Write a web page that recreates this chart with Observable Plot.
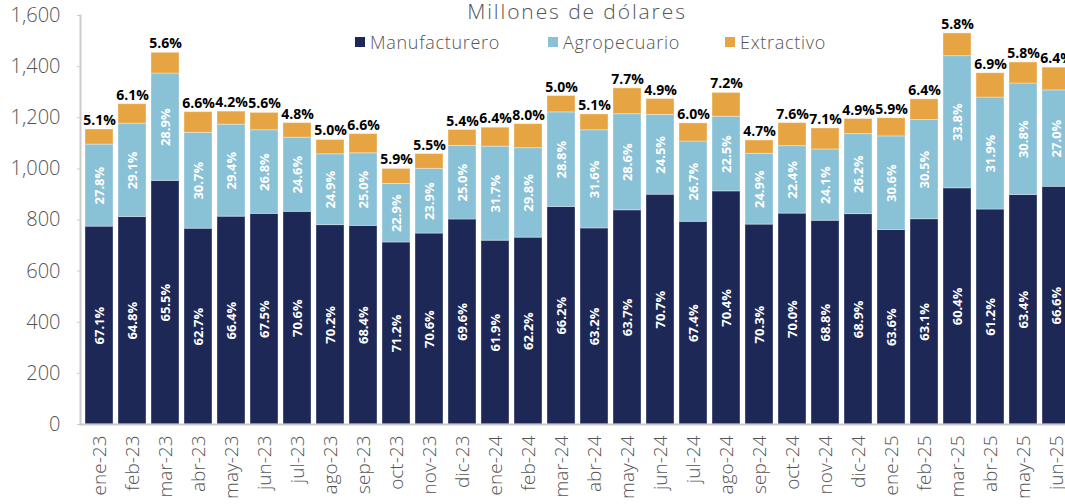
<!DOCTYPE html>
<html>
<head>
<meta charset="utf-8">
<script src="https://cdn.jsdelivr.net/npm/d3@7"></script>
<script src="https://cdn.jsdelivr.net/npm/@observablehq/plot@0.6"></script>
<style>
  html, body { margin: 0; padding: 0; background: #fff; overflow: hidden; }
  #wrap { position: relative; width: 1065px; height: 504px; overflow: hidden; }
  #chart svg { max-width: none !important; }
  #title { position: absolute; left: 417px; width: 320px; top: 1px; text-align: center; font: 300 21px 'Open Sans', sans-serif; color: #555; line-height: 21px; letter-spacing: 1.9px; white-space: nowrap; }
  .leg { position: absolute; top: 31px; font: 300 18px 'Open Sans', sans-serif; color: #555; line-height: 22px; white-space: nowrap; letter-spacing: 0.7px; }
  .sw { position: absolute; top: 37px; width: 10px; height: 10px; }
</style>
</head>
<body>
<div id="wrap">
  <div id="chart"></div>
  <div id="title">Millones de dólares</div>
</div>
<script>
const months = ["ene-23","feb-23","mar-23","abr-23","may-23","jun-23","jul-23","ago-23","sep-23","oct-23","nov-23","dic-23",
  "ene-24","feb-24","mar-24","abr-24","may-24","jun-24","jul-24","ago-24","sep-24","oct-24","nov-24","dic-24",
  "ene-25","feb-25","mar-25","abr-25","may-25","jun-25"];
const series = ["Manufacturero", "Agropecuario", "Extractivo"];
const colors = ["#1d2856", "#89c1d6", "#e7a442"];

const manufacturero = [774,812,953,766,813,824,832,780,777,712,747,802,719,731,851,767,838,899,793,912,782,825,797,823,761,803,924,841,898,930];
const agropecuario  = [321,365,420,375,360,327,290,277,284,229,253,288,368,350,370,384,376,312,314,292,277,264,279,313,366,388,517,438,436,377];
const extractivo    = [59,76,81,81,51,68,57,56,75,59,58,62,74,94,64,62,101,62,71,93,52,90,82,59,71,81,89,95,82,89];

const pctManufacturero = ["67.1%","64.8%","65.5%","62.7%","66.4%","67.5%","70.6%","70.2%","68.4%","71.2%","70.6%","69.6%","61.9%","62.2%","66.2%","63.2%","63.7%","70.7%","67.4%","70.4%","70.3%","70.0%","68.8%","68.9%","63.6%","63.1%","60.4%","61.2%","63.4%","66.6%"];
const pctAgropecuario  = ["27.8%","29.1%","28.9%","30.7%","29.4%","26.8%","24.6%","24.9%","25.0%","22.9%","23.9%","25.0%","31.7%","29.8%","28.8%","31.6%","28.6%","24.5%","26.7%","22.5%","24.9%","22.4%","24.1%","26.2%","30.6%","30.5%","33.8%","31.9%","30.8%","27.0%"];
const pctExtractivo    = ["5.1%","6.1%","5.6%","6.6%","4.2%","5.6%","4.8%","5.0%","6.6%","5.9%","5.5%","5.4%","6.4%","8.0%","5.0%","5.1%","7.7%","4.9%","6.0%","7.2%","4.7%","7.6%","7.1%","4.9%","5.9%","6.4%","5.8%","6.9%","5.8%","6.4%"];

const yTicks = [0, 200, 400, 600, 800, 1000, 1200, 1400, 1600];

const rows = [];
months.forEach((m, i) => {
  rows.push({mes: m, serie: series[0], k: 0, value: manufacturero[i], label: pctManufacturero[i]});
  rows.push({mes: m, serie: series[1], k: 1, value: agropecuario[i], label: pctAgropecuario[i]});
  rows.push({mes: m, serie: series[2], k: 2, value: extractivo[i], label: null});
});
const totals = months.map((m, i) => ({mes: m, total: manufacturero[i] + agropecuario[i] + extractivo[i], label: pctExtractivo[i]}));

const plot = Plot.plot({
  width: 1080,
  height: 504,
  marginTop: 15,
  marginBottom: 80,
  marginLeft: 80,
  marginRight: 5,
  style: {fontFamily: "'Open Sans', sans-serif", overflow: "visible"},
  x: {domain: months, paddingInner: 0.14, paddingOuter: 0.0, label: null},
  y: {domain: [0, 1600], label: null},
  color: {domain: series, range: colors},
  marks: [
    Plot.barY(rows, {x: "mes", y: "value", z: "serie", fill: "serie", order: "k", stroke: "#ffffff", strokeOpacity: 0.35, strokeWidth: 1}),
    Plot.text(rows, Plot.stackY({x: "mes", y: "value", z: "serie", order: "k", text: "label", rotate: -90, fill: "white", fontWeight: "bold", fontSize: 13})),
    Plot.text(totals, {x: "mes", y: "total", text: "label", dy: -9, fill: "black", fontWeight: "bold", fontSize: 14}),
    Plot.ruleY([0], {stroke: "#cccccc", strokeWidth: 2}),
    Plot.axisY({ticks: yTicks, tickFormat: d3.format(","), tickSize: 3, tickPadding: 17, fontSize: 20, fontWeight: 300, fill: "#555", stroke: "#ccc", label: null}),
    Plot.axisX({tickRotate: -90, tickSize: 0, tickPadding: 11, fontSize: 19, fontWeight: 300, fill: "#555", label: null}),
    Plot.frame({anchor: "left", stroke: "#cccccc", strokeWidth: 2})
  ]
});
document.getElementById("chart").appendChild(plot);

const wrap = document.getElementById("wrap");
const legendX = [355, 548, 725];
series.forEach((s, i) => {
  const sw = document.createElement("div");
  sw.className = "sw";
  sw.style.left = legendX[i] + "px";
  sw.style.background = colors[i];
  wrap.appendChild(sw);
  const t = document.createElement("div");
  t.className = "leg";
  t.style.left = (legendX[i] + 15) + "px";
  t.textContent = s;
  wrap.appendChild(t);
});
</script>
</body>
</html>
